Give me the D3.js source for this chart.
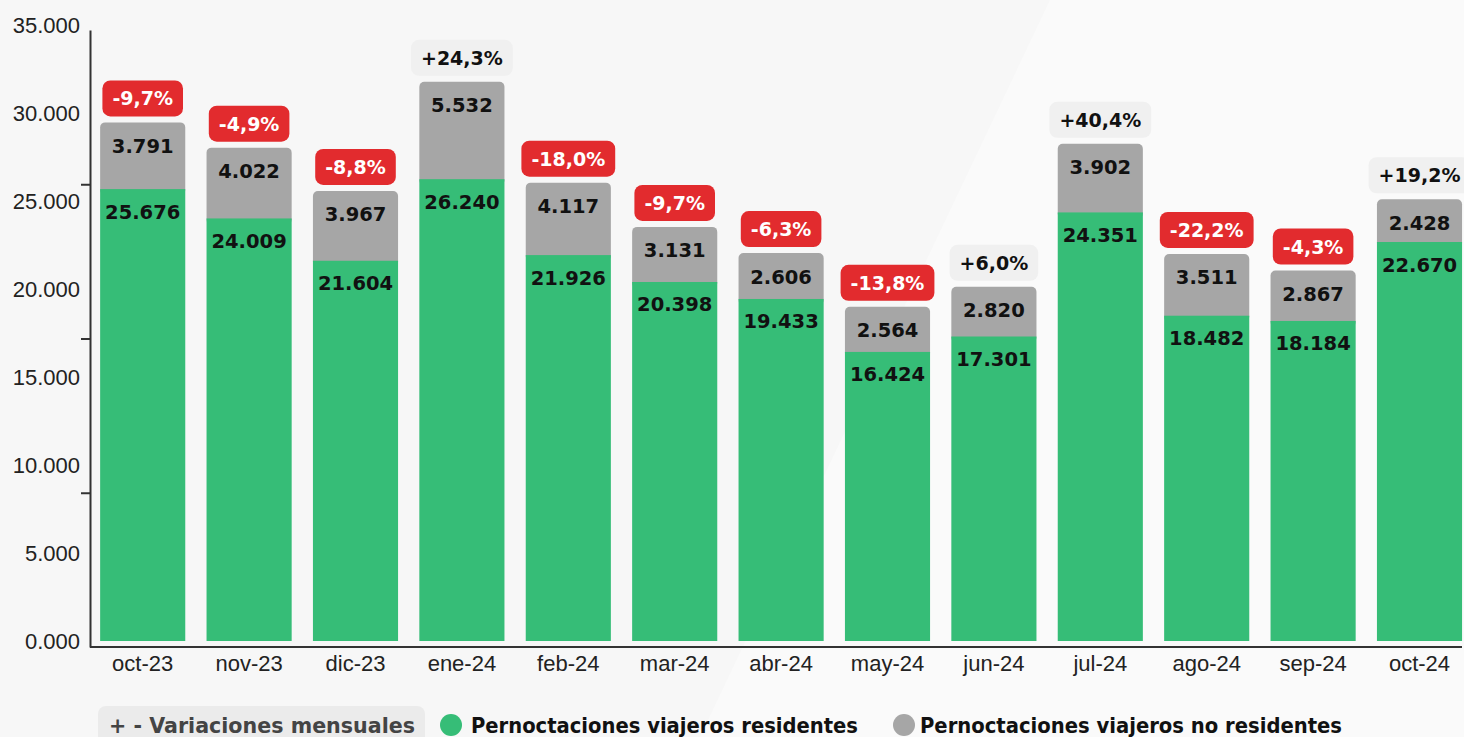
<!DOCTYPE html>
<html>
<head>
<meta charset="utf-8">
<script src="https://cdn.jsdelivr.net/npm/d3@7"></script>
<style>
  html, body { margin: 0; padding: 0; background: #f9f9f9; }
  svg { display: block; }
</style>
</head>
<body>
<svg id="chart" width="1464" height="737"></svg>
<script>
// data
const months = ["oct-23", "nov-23", "dic-23", "ene-24", "feb-24", "mar-24", "abr-24",
                "may-24", "jun-24", "jul-24", "ago-24", "sep-24", "oct-24"];
const residentes = [25676, 24009, 21604, 26240, 21926, 20398, 19433, 16424, 17301, 24351, 18482, 18184, 22670];
const noResidentes = [3791, 4022, 3967, 5532, 4117, 3131, 2606, 2564, 2820, 3902, 3511, 2867, 2428];
const variaciones = [-9.7, -4.9, -8.8, 24.3, -18.0, -9.7, -6.3, -13.8, 6.0, 40.4, -22.2, -4.3, 19.2];
const yTickLabels = [0, 5000, 10000, 15000, 20000, 25000, 30000, 35000];
const yTickMarks = [8750, 17500, 26250];

const GREEN = "#36bd77";
const GRAY = "#a6a6a6";
const RED = "#e22b2e";
const BADGE_GRAY = "#f0f0f0";
const BOLD = "'DejaVu Sans', sans-serif";
const PLAIN = "'Liberation Sans', Arial, sans-serif";

const locale = d3.formatLocale({ decimal: ",", thousands: ".", grouping: [3], currency: ["", "€"], minus: "-" });
const fmtInt = locale.format(",d");
const fmtPct = v => (v > 0 ? "+" : "") + locale.format(".1f")(v) + "%";

const svg = d3.select("#chart");

// faint background shapes
svg.append("rect").attr("width", 1464).attr("height", 737).attr("fill", "#f7f7f7");
svg.append("path")
    .attr("d", "M1050,0 L1464,0 L1464,737 L700,737 Z")
    .attr("fill", "#fafafa");

const data = months.map((m, i) => ({
    month: m,
    res: residentes[i],
    nores: noResidentes[i],
    varr: variaciones[i]
}));

const x = d3.scaleBand()
    .domain(months)
    .range([89.5, 1472.7])
    .paddingInner(0.2)
    .paddingOuter(0.1);

const y = d3.scaleLinear().domain([0, 35000]).range([641, 25]);
const yTick = d3.scaleLinear().domain([0, 35000]).range([647, 30]);

// y axis line with its own tick marks
svg.append("g")
    .attr("transform", "translate(90,0)")
    .call(d3.axisLeft(yTick).tickValues(yTickMarks).tickFormat("").tickSize(9).tickSizeOuter(0))
    .call(g => g.selectAll("path, line").attr("stroke", "#333").attr("stroke-width", 2));

// y labels
svg.append("g")
    .attr("transform", "translate(90,0)")
    .call(d3.axisLeft(y).tickValues(yTickLabels).tickSize(0).tickPadding(10)
        .tickFormat(d => d === 0 ? "0.000" : fmtInt(d)))
    .call(g => g.select(".domain").remove())
    .call(g => g.selectAll("text")
        .attr("font-family", PLAIN).attr("font-size", 22).attr("fill", "#222"));

// bars
const bar = svg.append("g").selectAll("g")
    .data(data)
    .join("g");

bar.append("rect")
    .attr("x", d => x(d.month))
    .attr("width", x.bandwidth())
    .attr("y", d => y(d.res + d.nores))
    .attr("height", d => y(d.res) - y(d.res + d.nores) + 6)
    .attr("rx", 5)
    .attr("fill", GRAY);

bar.append("rect")
    .attr("x", d => x(d.month))
    .attr("width", x.bandwidth())
    .attr("y", d => y(d.res))
    .attr("height", d => y(0) - y(d.res))
    .attr("fill", GREEN);

bar.append("text")
    .attr("x", d => x(d.month) + x.bandwidth() / 2)
    .attr("y", d => y(d.res + d.nores) + 24)
    .attr("text-anchor", "middle")
    .attr("dominant-baseline", "central")
    .attr("font-family", BOLD).attr("font-weight", 700).attr("font-size", 19.5)
    .attr("fill", "#111")
    .text(d => fmtInt(d.nores));

bar.append("text")
    .attr("x", d => x(d.month) + x.bandwidth() / 2)
    .attr("y", d => y(d.res) + 23)
    .attr("text-anchor", "middle")
    .attr("dominant-baseline", "central")
    .attr("font-family", BOLD).attr("font-weight", 700).attr("font-size", 19.5)
    .attr("fill", "#111")
    .text(d => fmtInt(d.res));

// variation badges
const badge = bar.append("g")
    .attr("transform", d => `translate(${x(d.month) + x.bandwidth() / 2},${y(d.res + d.nores) - 24})`);

badge.append("rect").attr("class", "bg");
badge.append("text")
    .attr("text-anchor", "middle")
    .attr("dominant-baseline", "central")
    .attr("font-family", BOLD).attr("font-weight", 700).attr("font-size", 19)
    .attr("fill", d => d.varr < 0 ? "#fff" : "#111")
    .text(d => fmtPct(d.varr));

badge.each(function(d) {
    const g = d3.select(this);
    const w = g.select("text").node().getComputedTextLength() + 20;
    g.select("rect.bg")
        .attr("x", -w / 2).attr("y", -18)
        .attr("width", w).attr("height", 36)
        .attr("rx", 8)
        .attr("fill", d.varr < 0 ? RED : BADGE_GRAY);
});

// x axis
svg.append("g")
    .attr("transform", "translate(0,647)")
    .call(d3.axisBottom(x).tickSize(0).tickPadding(8))
    .call(g => g.select(".domain").attr("d", "M90,0H1462").attr("stroke", "#333").attr("stroke-width", 2))
    .call(g => g.selectAll("text")
        .attr("font-family", PLAIN).attr("font-size", 22).attr("fill", "#222"));

// legend (sits on the bottom edge, as in the original)
const legend = svg.append("g");
legend.append("rect")
    .attr("x", 98).attr("y", 706).attr("width", 327).attr("height", 40)
    .attr("rx", 8).attr("fill", "#ebebeb");
legend.append("text")
    .attr("x", 109).attr("y", 733)
    .attr("font-family", BOLD).attr("font-weight", 700).attr("font-size", 21)
    .attr("fill", "#444")
    .attr("textLength", 306).attr("lengthAdjust", "spacingAndGlyphs")
    .text("+ - Variaciones mensuales");

const legendItems = [
    { label: "Pernoctaciones viajeros residentes", color: GREEN, cx: 451, tx: 471, len: 387 },
    { label: "Pernoctaciones viajeros no residentes", color: GRAY, cx: 904, tx: 920, len: 422 }
];
legendItems.forEach(it => {
    legend.append("circle").attr("cx", it.cx).attr("cy", 725).attr("r", 11).attr("fill", it.color);
    legend.append("text")
        .attr("x", it.tx).attr("y", 733)
        .attr("font-family", BOLD).attr("font-weight", 700).attr("font-size", 21)
        .attr("fill", "#111")
        .attr("textLength", it.len).attr("lengthAdjust", "spacingAndGlyphs")
        .text(it.label);
});
</script>
</body>
</html>
